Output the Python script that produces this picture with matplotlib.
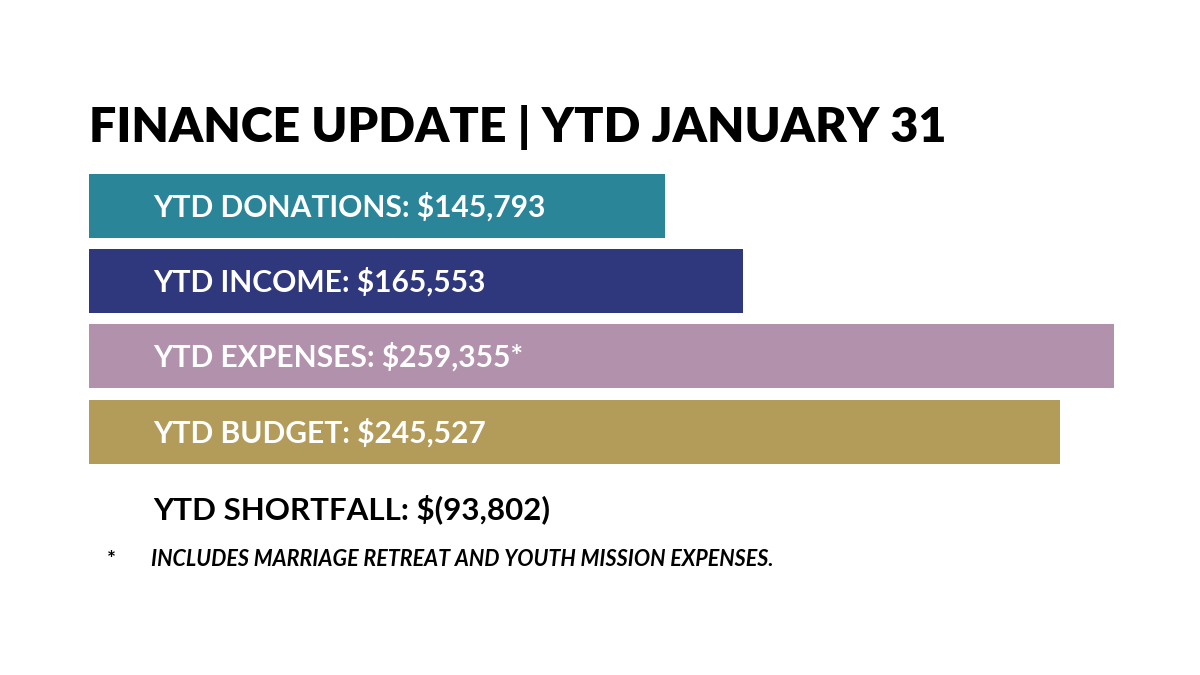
import matplotlib
matplotlib.use("Agg")
import matplotlib.pyplot as plt
from matplotlib.transforms import blended_transform_factory

categories = ["YTD DONATIONS", "YTD INCOME", "YTD EXPENSES", "YTD BUDGET"]
values = [145793, 165553, 259355, 245527]
suffixes = ["", "", "*", ""]
colors = ["#2a8598", "#2f387c", "#b291ad", "#b39b5a"]
title = "FINANCE UPDATE | YTD JANUARY 31"
shortfall_label = "YTD SHORTFALL: $(93,802)"
footnote = "INCLUDES MARRIAGE RETREAT AND YOUTH MISSION EXPENSES."

W, H = 1200, 675
fig = plt.figure(figsize=(W / 100, H / 100), dpi=100)
fig.patch.set_facecolor("white")
ax = fig.add_axes([0, 0, 1, 1])
px_per_dollar = 0.003953
left_px = 89
ax.set_xlim(-left_px / px_per_dollar, (W - left_px) / px_per_dollar)
ax.set_ylim(H, 0)
ax.axis("off")

centers = [206, 281, 356, 432]
ax.barh(centers, values, height=64, left=0, color=colors, edgecolor="none")

tr = blended_transform_factory(fig.transFigure, ax.transData)
for c, cat, v, s in zip(centers, categories, values, suffixes):
    ax.text(153 / W, c + 11, f"{cat}: ${v:,}{s}", transform=tr, color="white",
            fontsize=21.6, fontweight="bold", family="Lato", va="baseline", ha="left")

ax.text(89 / W, 142, title, transform=tr, color="black", fontsize=34.8,
        fontweight="heavy", family="Lato", va="baseline", ha="left")
ax.text(153 / W, 519, shortfall_label, transform=tr, color="black", fontsize=22.5,
        fontweight="bold", family="Lato", va="baseline", ha="left")
ax.text(107 / W, 566, "*", transform=tr, color="black", fontsize=15,
        fontweight="bold", family="Lato", va="baseline", ha="left")
ax.text(151 / W, 566, footnote, transform=tr, color="black", fontsize=15.5,
        fontweight="bold", style="italic", family="Lato", va="baseline", ha="left")

fig.savefig("out.png", dpi=100, facecolor="white")
